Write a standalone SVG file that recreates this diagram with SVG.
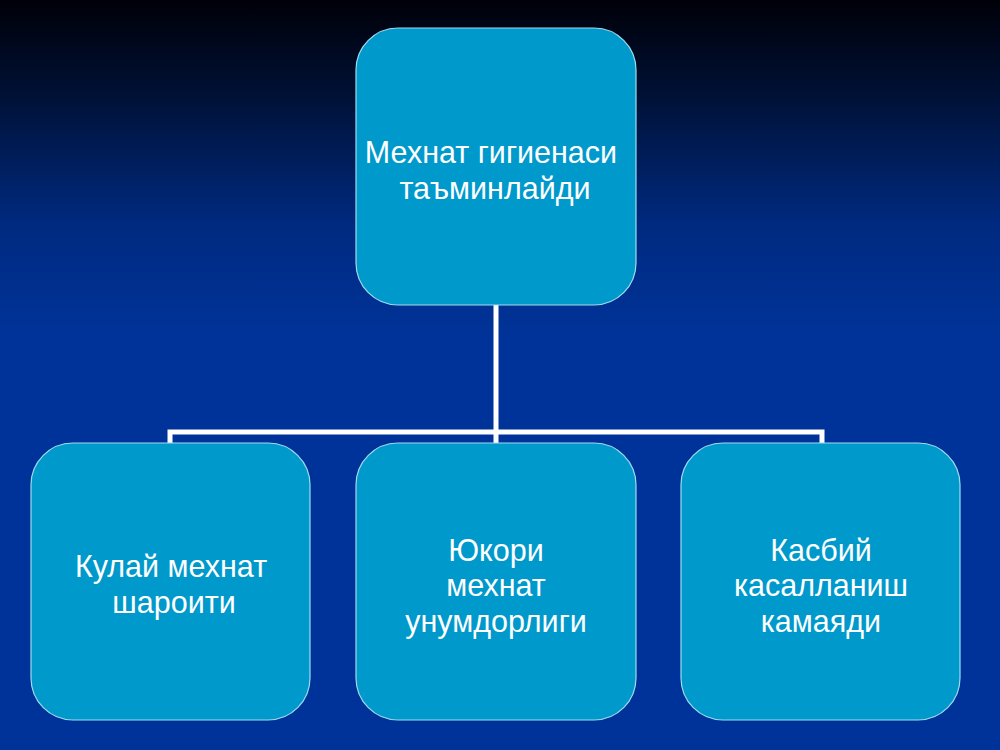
<svg xmlns="http://www.w3.org/2000/svg" width="1000" height="750" viewBox="0 0 1000 750">
<defs>
<linearGradient id="bg" x1="0" y1="0" x2="0" y2="1">
<stop offset="0" stop-color="#000008"/>
<stop offset="0.12" stop-color="#001033"/>
<stop offset="0.3" stop-color="#002a80"/>
<stop offset="0.45" stop-color="#003399"/>
<stop offset="1" stop-color="#003399"/>
</linearGradient>
<style>
.box{fill:#0099cc;stroke:#9fdcf0;stroke-width:1.2}
.lbl{font-family:"Liberation Sans",Arial,sans-serif;font-size:30.5px;fill:#ffffff;text-anchor:middle}
.conn{fill:none;stroke:#ffffff;stroke-width:5}
</style>
</defs>
<rect x="0" y="0" width="1000" height="750" fill="url(#bg)"/>
<g id="connectors">
<path class="conn" d="M496 305 V432 M170 443 V432 H822 V443 M496 432 V443"/>
</g>
<g id="top">
<rect class="box" x="356" y="28" width="280" height="277" rx="42"/>
<text class="lbl" x="491" y="163">Мехнат гигиенаси</text>
<text class="lbl" x="495" y="199">таъминлайди</text>
</g>
<g id="left">
<rect class="box" x="31" y="443" width="279" height="277" rx="42"/>
<text class="lbl" x="171" y="577">Кулай мехнат</text>
<text class="lbl" x="174" y="613">шароити</text>
</g>
<g id="middle">
<rect class="box" x="356" y="443" width="280" height="277" rx="42"/>
<text class="lbl" x="496" y="561">Юкори</text>
<text class="lbl" x="496" y="596">мехнат</text>
<text class="lbl" x="496" y="632">унумдорлиги</text>
</g>
<g id="right">
<rect class="box" x="681" y="443" width="279" height="277" rx="42"/>
<text class="lbl" x="821" y="561">Касбий</text>
<text class="lbl" x="821" y="596">касалланиш</text>
<text class="lbl" x="821" y="632">камаяди</text>
</g>
</svg>
